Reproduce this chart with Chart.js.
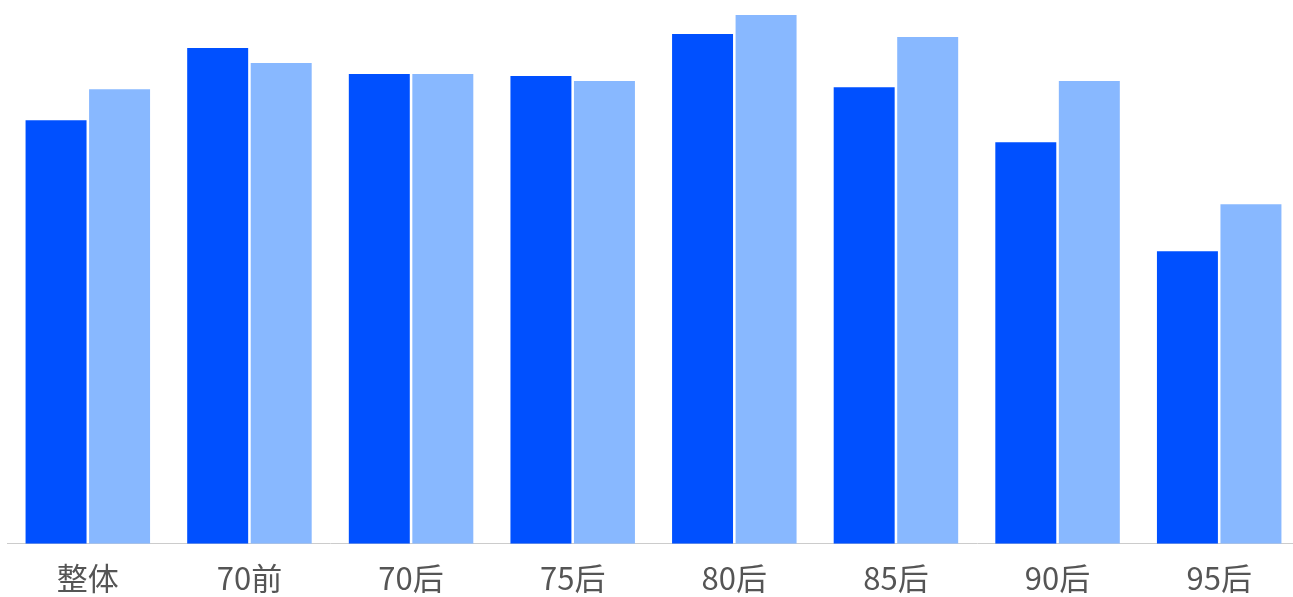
<!DOCTYPE html>
<html>
<head>
<meta charset="utf-8">
<script src="https://cdn.jsdelivr.net/npm/chart.js@4/dist/chart.umd.min.js"></script>
<style>
html,body{margin:0;padding:0;background:#fff;overflow:hidden;}
#wrap{position:absolute;left:0;top:0;width:1300px;height:613px;}
</style>
</head>
<body>
<div id="wrap"><canvas id="c" width="1300" height="613"></canvas></div>
<script>
const categories = ["整体","70前","70后","75后","80后","85后","90后","95后"];
const seriesA = [423, 495, 469, 467, 509, 456, 401, 292];
const seriesB = [454, 480, 469, 462, 528, 506, 462, 339];
const yMax = 543;

new Chart(document.getElementById('c'), {
  type: 'bar',
  data: {
    labels: categories,
    datasets: [
      {label: 'A', data: seriesA, backgroundColor: '#0050FF', barPercentage: 0.96, categoryPercentage: 0.786},
      {label: 'B', data: seriesB, backgroundColor: '#88B8FF', barPercentage: 0.96, categoryPercentage: 0.786}
    ]
  },
  options: {
    responsive: false,
    animation: false,
    layout: {padding: {left: 7, right: 0, top: 0, bottom: 0}},
    plugins: {legend: {display: false}, tooltip: {enabled: false}},
    scales: {
      x: {
        grid: {display: false, drawTicks: false},
        border: {display: true, color: '#cccccc', width: 1},
        ticks: {color: '#555555', font: {size: 31, lineHeight: 1.2, family: "'Noto Sans CJK SC', 'Noto Sans', sans-serif"}, padding: 16}
      },
      y: {display: false, min: 0, max: yMax}
    }
  }
});
</script>
</body>
</html>
